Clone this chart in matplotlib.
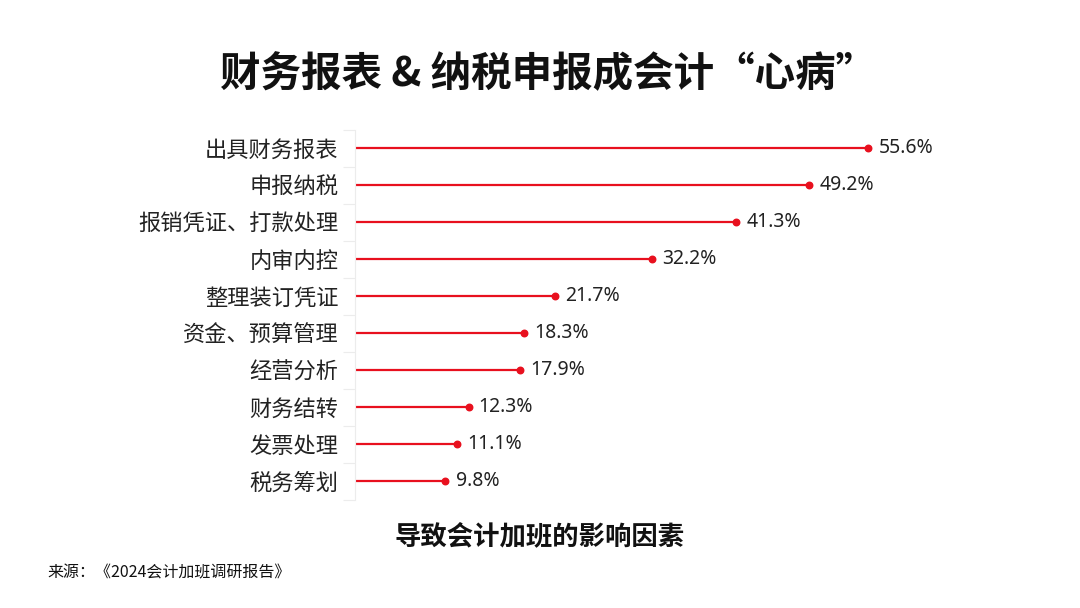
import matplotlib
matplotlib.use("Agg")
import matplotlib.pyplot as plt

plt.rcParams['font.family'] = ['Noto Sans CJK SC', 'DejaVu Sans']

categories = ["出具财务报表", "申报纳税", "报销凭证、打款处理", "内审内控", "整理装订凭证",
              "资金、预算管理", "经营分析", "财务结转", "发票处理", "税务筹划"]
values = [55.6, 49.2, 41.3, 32.2, 21.7, 18.3, 17.9, 12.3, 11.1, 9.8]
value_labels = ["55.6%", "49.2%", "41.3%", "32.2%", "21.7%", "18.3%", "17.9%", "12.3%", "11.1%", "9.8%"]

title = "财务报表 & 纳税申报成会计“心病”"
subtitle = "导致会计加班的影响因素"
source = "来源：《2024会计加班调研报告》"

W, H = 1080, 608
fig = plt.figure(figsize=(W/100, H/100), dpi=100)
fig.patch.set_facecolor("white")

left, right = 355, 909
top, bottom = 129.5, 499.5
ax = fig.add_axes([left/W, 1-bottom/H, (right-left)/W, (bottom-top)/H])

n = len(categories)
ys = list(range(n))
red = "#E8101E"
ax.hlines(ys, 0, values, color=red, linewidth=1.6)
ax.scatter(values, ys, color=red, s=22, zorder=3)
for v, y, lab in zip(values, ys, value_labels):
    ax.text(v + 1.1, y, lab, va="center", ha="left", fontsize=14,
            color="#222222", family=["Noto Sans", "DejaVu Sans"])

ax.set_xlim(0, 60)
ax.set_ylim(n - 0.5, -0.5)
ax.set_yticks(ys)
ax.set_yticklabels(categories, fontsize=16, color="#222222")
ax.tick_params(axis="y", length=0, pad=12)
ax.set_yticks([i - 0.5 for i in range(n + 1)], minor=True)
ax.tick_params(axis="y", which="minor", length=9, color="#ececec", width=0.8)
ax.set_xticks([])
for s in ["top", "right", "bottom"]:
    ax.spines[s].set_visible(False)
ax.spines["left"].set_color("#ececec")
ax.spines["left"].set_linewidth(0.8)

fig.text(548/W, 1-75/H, title, ha="center", va="center", fontsize=29.2, fontweight="bold", color="#111111")
fig.text(540/W, 1-537/H, subtitle, ha="center", va="center", fontsize=19, fontweight="bold", color="#111111")
fig.text(47/W, 1-573/H, source, ha="left", va="center", fontsize=11.5, color="#111111")

fig.savefig("out.png", dpi=100, facecolor="white")
